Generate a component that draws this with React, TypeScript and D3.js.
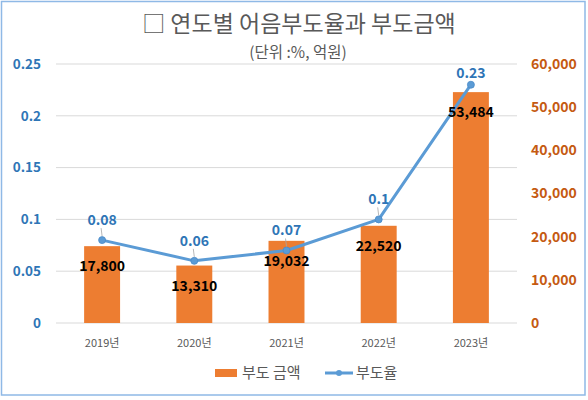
import React from "react";
import * as d3 from "d3";

const years = ["2019년", "2020년", "2021년", "2022년", "2023년"];
const amounts = [17800, 13310, 19032, 22520, 53484];
const rates = [0.08, 0.06, 0.07, 0.1, 0.23];
const leftTicks = [0, 0.05, 0.1, 0.15, 0.2, 0.25];
const rightTicks = [0, 10000, 20000, 30000, 40000, 50000, 60000];

const W = 588;
const H = 400;
const plotL = 56;
const plotR = 517;
const plotT = 64;
const plotB = 323;

const FONT = "'Noto Sans CJK KR', 'Noto Sans', sans-serif";
const BAR = "#ED7D31";
const LINE = "#5B9BD5";
const BLUE_TXT = "#2E75B6";
const ORANGE_TXT = "#C55A11";
const GRAY_TXT = "#595959";

export default function App() {
  const x = d3
    .scaleBand<string>()
    .domain(years)
    .range([plotL, plotR])
    .paddingInner(0.61)
    .paddingOuter(0.305);
  const yL = d3.scaleLinear().domain([0, 0.25]).range([plotB, plotT]);
  const yR = d3.scaleLinear().domain([0, 60000]).range([plotB, plotT]);
  const cx = (y: string) => (x(y) ?? 0) + x.bandwidth() / 2;
  const fmtComma = d3.format(",");
  const fmtRate = (v: number) => String(+v.toFixed(2));

  const linePath =
    d3
      .line<number>()
      .x((_, i) => cx(years[i]))
      .y((d) => yL(d))(rates) ?? "";

  return (
    <svg
      width={W}
      height={H}
      style={{ position: "absolute", left: 0, top: 0, background: "#fff" }}
      fontFamily={FONT}
    >
      <rect x={0} y={0} width={W} height={H} fill="#ffffff" />
      {/* frame */}
      <rect x={1.5} y={1.5} width={583.5} height={393.5} fill="#fff" stroke="#8FB9E6" strokeWidth={1.5} />

      {/* title */}
      <text x={299} y={32} textAnchor="middle" fontSize={23} fill={GRAY_TXT}>
        □ 연도별 어음부도율과 부도금액
      </text>
      <text x={298} y={58} textAnchor="middle" fontSize={15.5} fill={GRAY_TXT}>
        (단위 :%, 억원)
      </text>

      {/* gridlines */}
      {leftTicks.map((t) => (
        <line key={t} x1={plotL} x2={plotR} y1={yL(t)} y2={yL(t)} stroke="#D9D9D9" strokeWidth={1} />
      ))}

      {/* left axis labels */}
      {leftTicks.map((t) => (
        <text
          key={"l" + t}
          x={41}
          y={yL(t)}
          dy="0.35em"
          textAnchor="end"
          fontSize={13.5}
          fontWeight="bold"
          fill={BLUE_TXT}
        >
          {fmtRate(t)}
        </text>
      ))}

      {/* right axis labels */}
      {rightTicks.map((t) => (
        <text
          key={"r" + t}
          x={531}
          y={yR(t)}
          dy="0.35em"
          textAnchor="start"
          fontSize={14}
          fontWeight="bold"
          fill={ORANGE_TXT}
        >
          {fmtComma(t)}
        </text>
      ))}

      {/* bars */}
      {amounts.map((v, i) => (
        <rect
          key={"b" + i}
          x={x(years[i])}
          y={yR(v)}
          width={x.bandwidth()}
          height={plotB - yR(v)}
          fill={BAR}
        />
      ))}

      {/* x labels */}
      {years.map((y) => (
        <text key={"x" + y} x={cx(y)} y={347} textAnchor="middle" fontSize={11} fill={GRAY_TXT}>
          {y}
        </text>
      ))}

      {/* line */}
      <path d={linePath} fill="none" stroke={LINE} strokeWidth={3} strokeLinejoin="round" />
      {rates.map((v, i) => (
        <circle key={"p" + i} cx={cx(years[i])} cy={yL(v)} r={3.5} fill={LINE} stroke="#4A8AC8" strokeWidth={0.8} />
      ))}

      {/* leader lines */}
      {rates.map((v, i) =>
        i < rates.length - 1 ? (
          <line
            key={"ld" + i}
            x1={cx(years[i]) - 1}
            y1={yL(v) - 12}
            x2={cx(years[i])}
            y2={yL(v) - 4}
            stroke="#A6A6A6"
            strokeWidth={0.8}
          />
        ) : null
      )}

      {/* bar labels */}
      {amounts.map((v, i) => (
        <text
          key={"bl" + i}
          x={cx(years[i])}
          y={yR(v) + 25}
          textAnchor="middle"
          fontSize={14}
          fontWeight="bold"
          fill="#000"
        >
          {fmtComma(v)}
        </text>
      ))}

      {/* rate labels */}
      {rates.map((v, i) => (
        <text
          key={"rl" + i}
          x={cx(years[i])}
          y={yL(v) - (i < rates.length - 1 ? 15 : 7)}
          textAnchor="middle"
          fontSize={14}
          fontWeight="bold"
          fill={BLUE_TXT}
        >
          {fmtRate(v)}
        </text>
      ))}

      {/* legend */}
      <rect x={215} y={369} width={22} height={8} fill={BAR} />
      <text x={242} y={378} fontSize={15} fill={GRAY_TXT}>
        부도 금액
      </text>
      <line x1={325} x2={353} y1={373} y2={373} stroke={LINE} strokeWidth={3} />
      <circle cx={339} cy={373} r={3} fill={LINE} />
      <text x={356} y={378} fontSize={15} fill={GRAY_TXT}>
        부도율
      </text>
    </svg>
  );
}
